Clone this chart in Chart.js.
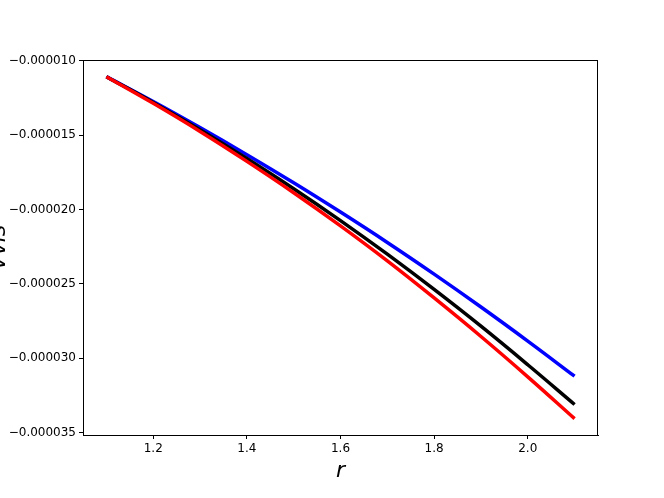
<!DOCTYPE html>
<html>
<head>
<meta charset="utf-8">
<script src="https://cdn.jsdelivr.net/npm/chart.js@4"></script>
<style>
  html, body { margin: 0; padding: 0; background: #fff; }
</style>
</head>
<body>
<canvas id="chart" width="664" height="498"></canvas>
<script>
// values
const rValues = [1.1, 1.2, 1.3, 1.4, 1.5, 1.6, 1.7, 1.8, 1.9, 2.0, 2.1];
const blueValues = [-1.107e-5, -1.274e-5, -1.449e-5, -1.631e-5, -1.820e-5, -2.017e-5, -2.221e-5, -2.434e-5, -2.655e-5, -2.884e-5, -3.120e-5];
const blackValues = [-1.107e-5, -1.280e-5, -1.463e-5, -1.657e-5, -1.860e-5, -2.074e-5, -2.300e-5, -2.537e-5, -2.784e-5, -3.043e-5, -3.310e-5];
const redValues = [-1.107e-5, -1.286e-5, -1.475e-5, -1.676e-5, -1.887e-5, -2.110e-5, -2.345e-5, -2.594e-5, -2.853e-5, -3.124e-5, -3.405e-5];

const xTicks = [1.2, 1.4, 1.6, 1.8, 2.0];
const yTicks = [-0.000010, -0.000015, -0.000020, -0.000025, -0.000030, -0.000035];

function toPoints(vals){
  return rValues.map((r, i) => ({x: r, y: vals[i]}));
}

function makeLine(vals, color, order){
  return {
    data: toPoints(vals),
    borderColor: color,
    backgroundColor: color,
    borderWidth: 3.5,
    pointRadius: 0,
    tension: 0.4,
    fill: false,
    order: order
  };
}

const tickFont = {family: 'DejaVu Sans', size: 12};

// box around plot + axis titles like matplotlib
const framePlugin = {
  id: 'frame',
  afterDraw(chart){
    const ctx = chart.ctx;
    const a = chart.chartArea;
    ctx.save();
    ctx.strokeStyle = '#000';
    ctx.lineWidth = 1;
    ctx.strokeRect(a.left + 0.5, a.top + 0.5, a.right - a.left - 1, a.bottom - a.top);
    ctx.fillStyle = '#000';
    ctx.font = 'italic 22px "DejaVu Sans"';
    ctx.textAlign = 'center';
    ctx.textBaseline = 'alphabetic';
    ctx.fillText('r', (a.left + a.right) / 2, 477);
    ctx.translate(5, (a.top + a.bottom) / 2);
    ctx.rotate(-Math.PI / 2);
    ctx.fillText('Vvis', 0, 0);
    ctx.restore();
  }
};

const config = {
  type: 'line',
  data: {
    datasets: [
      makeLine(redValues, '#ff0000', 1),
      makeLine(blackValues, '#000000', 2),
      makeLine(blueValues, '#0000ff', 3)
    ]
  },
  options: {
    responsive: false,
    animation: false,
    devicePixelRatio: 1,
    layout: {padding: {top: 60, right: 66, left: 0, bottom: 0}},
    plugins: {legend: {display: false}, tooltip: {enabled: false}},
    scales: {
      x: {
        type: 'linear',
        min: 1.05,
        max: 2.15,
        afterFit(scale){ scale.height = 63; },
        afterBuildTicks(scale){ scale.ticks = xTicks.map(v => ({value: v})); },
        grid: {drawOnChartArea: false, drawTicks: true, tickLength: 4, color: '#000'},
        border: {display: true, color: '#000', width: 1},
        ticks: {
          color: '#000',
          font: tickFont,
          padding: 3,
          maxRotation: 0,
          callback: v => v.toFixed(1)
        }
      },
      y: {
        type: 'linear',
        min: -3.515e-5,
        max: -0.995e-5,
        afterFit(scale){ scale.width = 83; },
        afterBuildTicks(scale){ scale.ticks = yTicks.map(v => ({value: v})); },
        grid: {drawOnChartArea: false, drawTicks: true, tickLength: 4, color: '#000'},
        border: {display: true, color: '#000', width: 1},
        ticks: {
          color: '#000',
          font: tickFont,
          padding: 3,
          callback: v => '\u2212' + Math.abs(v).toFixed(6)
        }
      }
    }
  },
  plugins: [framePlugin]
};

const chart = new Chart(document.getElementById('chart'), config);
</script>
</body>
</html>
